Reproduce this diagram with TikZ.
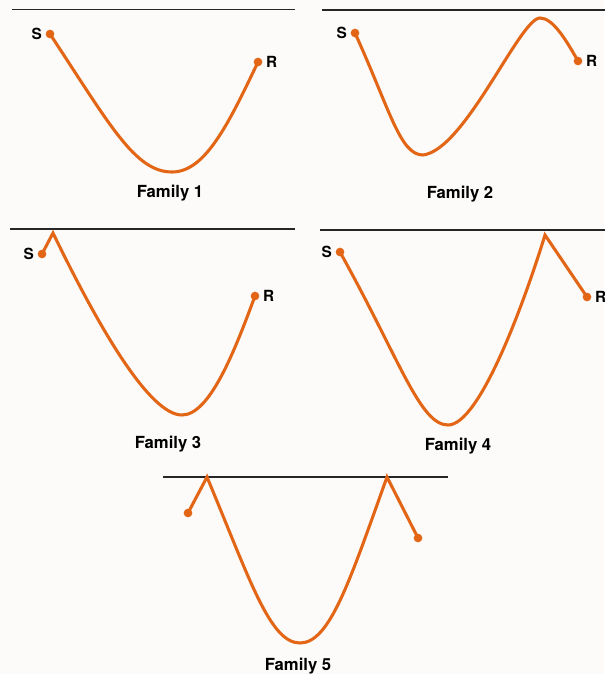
\documentclass[tikz,border=0pt]{standalone}
\usepackage{fontspec}
\setmainfont{TeX Gyre Heros}
\definecolor{ropeor}{RGB}{226,102,22}
\definecolor{bgcol}{RGB}{252,251,249}
\tikzset{
  rope/.style={draw=ropeor, line width=2.3pt, line cap=round, line join=miter},
  endpt/.style={circle, fill=ropeor, inner sep=0pt, minimum size=6.5pt},
  ground/.style={draw=black!85, line width=0.9pt},
  fam/.style={font=\fontsize{12.5}{14}\selectfont\bfseries, anchor=base, inner sep=0pt},
  sr/.style={font=\fontsize{11.5}{13}\selectfont\bfseries, inner sep=0pt},
  every label/.style={sr},
  label distance=2.5pt
}
\begin{document}
\begin{tikzpicture}[x=0.75pt,y=-0.75pt]
\fill[bgcol] (0,0) rectangle (604,674);
\useasboundingbox (0,0) rectangle (604,674);

% ---------- ground lines
\coordinate (g1a) at (12,9.5);   \coordinate (g1b) at (295,9.5);
\coordinate (g2a) at (322,10);   \coordinate (g2b) at (606,10);
\coordinate (g3a) at (10,229);   \coordinate (g3b) at (295,229);
\coordinate (g4a) at (320,230);  \coordinate (g4b) at (606,230);
\coordinate (g5a) at (163,477);  \coordinate (g5b) at (448,477);
\foreach \g in {1,...,5} \draw[ground] (g\g a) -- (g\g b);

% ---------- end points
\coordinate (s1) at (50,34);   \coordinate (r1) at (258,62);
\coordinate (s2) at (355,33);  \coordinate (r2) at (578,61);
\coordinate (s3) at (42,254);  \coordinate (r3) at (255,296);
\coordinate (s4) at (340,252); \coordinate (r4) at (587,297);
\coordinate (s5) at (188,513); \coordinate (r5) at (418,538);
% peaks and bottoms
\coordinate (b1) at (172,172);
\coordinate (b2) at (423,155);  \coordinate (p2) at (540,18);
\coordinate (p3) at (53,233);   \coordinate (b3) at (182,415);
\coordinate (b4) at (448,425);  \coordinate (p4) at (545,235);
\coordinate (p5a) at (207,477); \coordinate (b5) at (300,643);
\coordinate (p5b) at (387,477);

% ---------- Family 1
\draw[rope] (s1) .. controls (110,125) and (135,172) .. (b1)
               .. controls (205,172) and (228,125) .. (r1);
% ---------- Family 2
\draw[rope] (s2) .. controls (390,110) and (400,155) .. (b2)
               .. controls (465,150) and (520,18) .. (p2)
               .. controls (553,18) and (566,40) .. (r2);
% ---------- Family 3
\draw[rope] (s3) -- (p3) .. controls (100,330) and (150,415) .. (b3)
               .. controls (210,415) and (235,350) .. (r3);
% ---------- Family 4
\draw[rope] (s4) .. controls (400,360) and (420,425) .. (b4)
               .. controls (480,425) and (525,300) .. (p4) -- (r4);
% ---------- Family 5
\draw[rope] (s5) -- (p5a) .. controls (250,580) and (270,643) .. (b5)
               .. controls (330,643) and (350,580) .. (p5b) -- (r5);

% ---------- dots
\node[endpt, label=left:S]  (S1) at (s1) {};
\node[endpt, label=right:R] (R1) at (r1) {};
\node[endpt, label=left:S]  (S2) at (s2) {};
\node[endpt, label=right:R] (R2) at (r2) {};
\node[endpt, label=left:S]  (S3) at (s3) {};
\node[endpt, label=right:R] (R3) at (r3) {};
\node[endpt, label=left:S]  (S4) at (s4) {};
\node[endpt, label=right:R] (R4) at (r4) {};
\node[endpt] (S5) at (s5) {};
\node[endpt] (R5) at (r5) {};

% ---------- captions
\node[fam] (F1) at (170,197) {Family 1};
\node[fam] (F2) at (460,198) {Family 2};
\node[fam] (F3) at (168,448) {Family 3};
\node[fam] (F4) at (458,450) {Family 4};
\node[fam] (F5) at (298,670) {Family 5};
\end{tikzpicture}
\end{document}
